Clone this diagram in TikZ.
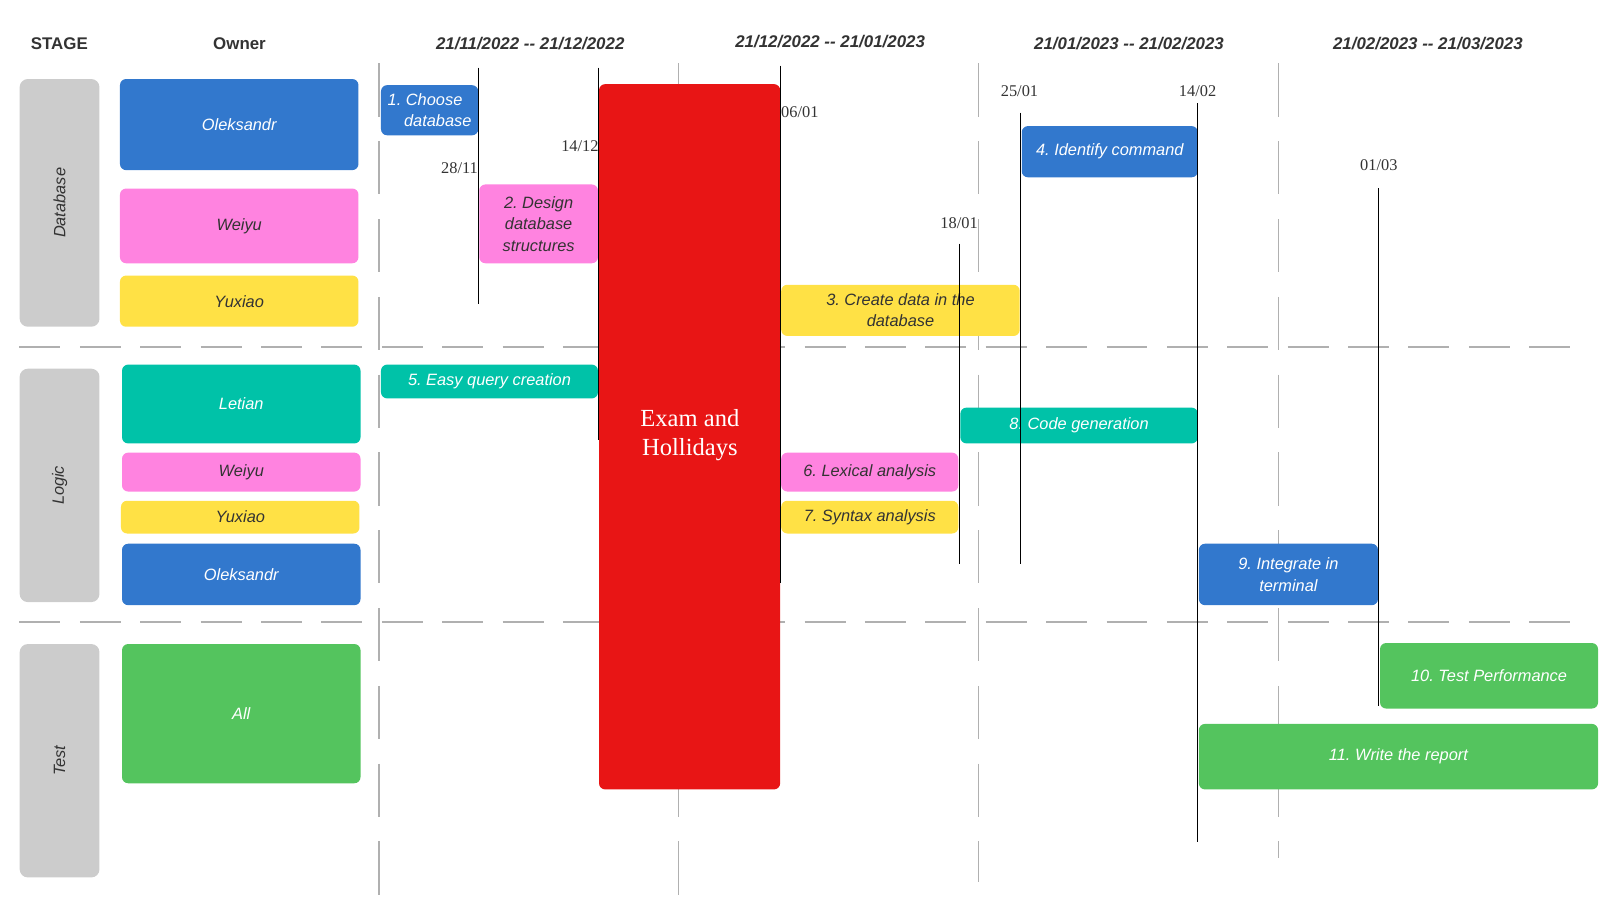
\documentclass[tikz,border=0pt]{standalone}
\usepackage{fontspec}
\setmainfont{Liberation Sans}
\newfontfamily\serifface{Liberation Serif}
\frenchspacing
\definecolor{cblue}{HTML}{3278CD}
\definecolor{cpink}{HTML}{FF83E0}
\definecolor{cyellow}{HTML}{FFE145}
\definecolor{cteal}{HTML}{00C2A8}
\definecolor{cgreen}{HTML}{54C45E}
\definecolor{cred}{HTML}{E81515}
\definecolor{cstage}{HTML}{CCCCCC}
\definecolor{cgrid}{HTML}{B0B0B0}
\definecolor{cdark}{HTML}{333333}
\tikzset{
  box/.style={rounded corners=6pt, draw=none, anchor=north west, inner sep=2pt, align=center,
    font=\fontsize{16}{21}\selectfont\itshape},
  wbox/.style={box, text=white},
  dbox/.style={box, text=cdark},
  stagebox/.style={rounded corners=8pt, fill=cstage, anchor=north west, minimum width=78pt},
  stagelbl/.style={rotate=90, text=cdark, font=\fontsize{16}{20}\selectfont\itshape},
  header/.style={font=\fontsize{16.5}{20}\selectfont\bfseries, text=cdark},
  dheader/.style={font=\fontsize{16.5}{20}\selectfont\bfseries\itshape, text=cdark},
  vgrid/.style={draw=cgrid, line width=1.6pt, dash pattern=on 52pt off 24pt},
  hgrid/.style={draw=cgrid, line width=2.2pt, dash pattern=on 40pt off 19pt},
  mile/.style={draw=black, line width=0.7pt},
  milelbl/.style={font=\serifface\fontsize{16}{18}\selectfont, text=cdark, inner sep=0pt},
}
\begin{document}
\begin{tikzpicture}[x=1pt, y=-1pt]
\useasboundingbox (0,0) rectangle (1568,876);
% headers
\node[header] (hstage) at (58,43) {STAGE};
\node[header] (howner) at (234,43) {Owner};
\node[dheader] (h1) at (518,43) {21/11/2022 -{}- 21/12/2022};
\node[dheader] (h2) at (811,41) {21/12/2022 -{}- 21/01/2023};
\node[dheader] (h3) at (1103,43) {21/01/2023 -{}- 21/02/2023};
\node[dheader] (h4) at (1395,43) {21/02/2023 -{}- 21/03/2023};
% grid
\coordinate (g1t) at (370,62); \coordinate (g1b) at (370,876);
\coordinate (g2t) at (663,62); \coordinate (g2b) at (663,876);
\coordinate (g3t) at (956,62); \coordinate (g3b) at (956,862);
\coordinate (g4t) at (1249,62); \coordinate (g4b) at (1249,838);
\draw[vgrid] (g1t) -- (g1b);
\draw[vgrid] (g2t) -- (g2b);
\draw[vgrid] (g3t) -- (g3b);
\draw[vgrid] (g4t) -- (g4b);
\coordinate (h1l) at (19,339); \coordinate (h1r) at (1540,339);
\coordinate (h2l) at (19,608); \coordinate (h2r) at (1540,608);
\draw[hgrid] (h1l) -- (h1r);
\draw[hgrid] (h2l) -- (h2r);
% stages
\node[stagebox, minimum height=242pt] (sdb) at (19,77) {};
\node[stagelbl] (sdbl) at (sdb.center) {Database};
\node[stagebox, minimum height=228pt] (slog) at (19,360) {};
\node[stagelbl] (slogl) at (slog.center) {Logic};
\node[stagebox, minimum height=228pt] (stest) at (19,629) {};
\node[stagelbl] (stestl) at (stest.center) {Test};
% owners
\node[wbox, fill=cblue, minimum width=233pt, minimum height=89pt] (o1) at (117,77) {Oleksandr};
\node[dbox, fill=cpink, minimum width=233pt, minimum height=73pt] (o2) at (117,184) {Weiyu};
\node[dbox, fill=cyellow, minimum width=233pt, minimum height=50pt] (o3) at (117,269) {Yuxiao};
\node[wbox, fill=cteal, minimum width=233pt, minimum height=77pt] (o4) at (119,356) {Letian};
\node[dbox, fill=cpink, minimum width=233pt, minimum height=38pt] (o5) at (119,442) {Weiyu};
\node[dbox, fill=cyellow, minimum width=233pt, minimum height=32pt] (o6) at (118,489) {Yuxiao};
\node[wbox, fill=cblue, minimum width=233pt, minimum height=60pt] (o7) at (119,531) {Oleksandr};
\node[wbox, fill=cgreen, minimum width=233pt, minimum height=136pt] (o8) at (119,629) {All};
% exam block
\node[rounded corners=6pt, fill=cred, anchor=north west, minimum width=177pt, minimum height=689pt] (exam) at (585,82) {};
\node[text=white, align=center, font=\serifface\fontsize{24}{29}\selectfont] (examl) at (674,425) {Exam and\\Hollidays};
% tasks
\node[wbox, fill=cblue, minimum width=95pt, minimum height=49pt, align=left] (t1) at (372,83) {1. Choose\\\hspace*{16pt}database};
\node[dbox, fill=cpink, minimum width=116pt, minimum height=77pt] (t2) at (468,180) {2. Design\\database\\structures};
\node[dbox, fill=cyellow, minimum width=233pt, minimum height=50pt] (t3) at (763,278) {3. Create data in the\\database};
\node[wbox, fill=cblue, minimum width=172pt, minimum height=50pt] (t4) at (998,123) {4. Identify command};
\node[wbox, fill=cteal, minimum width=212pt, minimum height=33pt] (t5) at (372,356) {5. Easy query creation};
\node[dbox, fill=cpink, minimum width=173pt, minimum height=38pt] (t6) at (763,442) {6. Lexical analysis};
\node[dbox, fill=cyellow, minimum width=173pt, minimum height=32pt] (t7) at (763,489) {7. Syntax analysis};
\node[wbox, fill=cteal, minimum width=232pt, minimum height=35pt] (t8) at (938,398) {8. Code generation};
\node[wbox, fill=cblue, minimum width=175pt, minimum height=60pt] (t9) at (1171,531) {9. Integrate in\\terminal};
\node[wbox, fill=cgreen, minimum width=213pt, minimum height=64pt] (t10) at (1348,628) {10. Test Performance};
\node[wbox, fill=cgreen, minimum width=390pt, minimum height=64pt] (t11) at (1171,707) {11. Write the report};
% milestones
\coordinate (m1t) at (467,66); \coordinate (m1b) at (467,297);
\coordinate (m2t) at (585,66); \coordinate (m2b) at (585,430);
\coordinate (m3t) at (762,64); \coordinate (m3b) at (762,570);
\coordinate (m4t) at (937,238); \coordinate (m4b) at (937,551);
\coordinate (m5t) at (997,110); \coordinate (m5b) at (997,551);
\coordinate (m6t) at (1170,101); \coordinate (m6b) at (1170,823);
\coordinate (m7t) at (1347,184); \coordinate (m7b) at (1347,690);
\draw[mile] (m1t) -- (m1b);
\draw[mile] (m2t) -- (m2b);
\draw[mile] (m3t) -- (m3b);
\draw[mile] (m4t) -- (m4b);
\draw[mile] (m5t) -- (m5b);
\draw[mile] (m6t) -- (m6b);
\draw[mile] (m7t) -- (m7b);
\node[milelbl, anchor=east] (l1) at (467,164) {28/11};
\node[milelbl, anchor=east] (l2) at (585,143) {14/12};
\node[milelbl, anchor=west] (l3) at (763,110) {06/01};
\node[milelbl] (l4) at (937,218) {18/01};
\node[milelbl] (l5) at (996,89) {25/01};
\node[milelbl] (l6) at (1170,89) {14/02};
\node[milelbl] (l7) at (1347,161) {01/03};
\end{tikzpicture}
\end{document}
